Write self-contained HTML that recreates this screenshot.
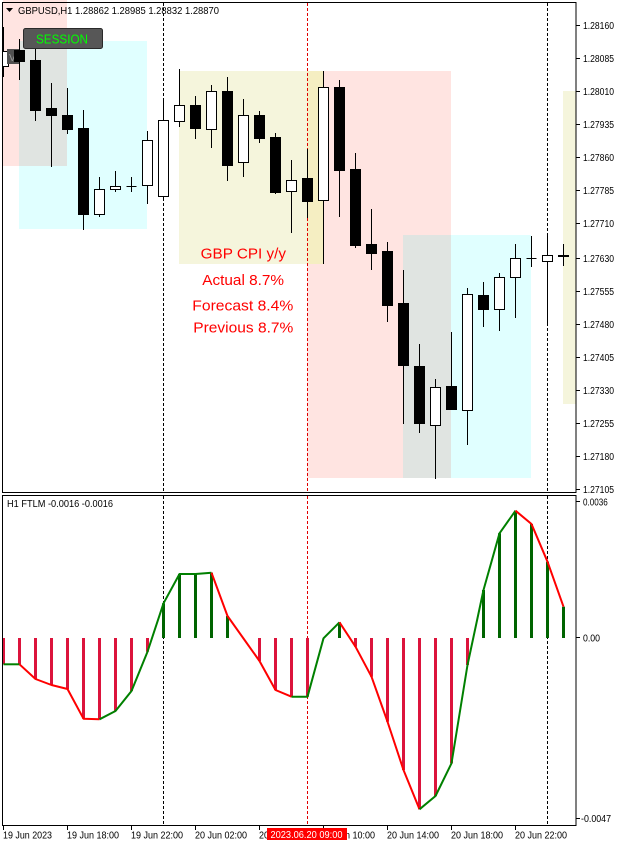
<!DOCTYPE html>
<html>
<head>
<meta charset="utf-8">
<style>
html,body{margin:0;padding:0;background:#fff;}
svg{display:block;}
text{font-family:"Liberation Sans",Arial,sans-serif;}
</style>
</head>
<body>
<svg width="622" height="846" viewBox="0 0 622 846" xmlns="http://www.w3.org/2000/svg">
<defs>
<clipPath id="mainclip"><rect x="3" y="0" width="573" height="492"/></clipPath>
<clipPath id="indclip"><rect x="3" y="496" width="573" height="329"/></clipPath>
</defs>
<rect x="0" y="0" width="622" height="846" fill="#fff"/>

<!-- ===== MAIN PANEL ===== -->
<g clip-path="url(#mainclip)">
  <!-- session rectangles -->
  <rect x="3" y="0" width="64" height="166" fill="#FFE4E1"/>
  <rect x="19" y="41" width="128" height="188" fill="#E0FFFF"/>
  <rect x="19" y="41" width="48" height="125" fill="#E0E4E1"/>
  <rect x="179" y="71" width="144" height="193" fill="#F5F5DC"/>
  <rect x="307" y="71" width="144" height="407" fill="#FFE4E1"/>
  <rect x="307" y="71" width="16" height="193" fill="#F5EEC2"/>
  <rect x="403" y="235" width="128" height="243" fill="#E0FFFF"/>
  <rect x="403" y="235" width="48" height="243" fill="#E0E4E1"/>
  <rect x="563" y="91" width="13" height="313" fill="#F5F5DC"/>

  <!-- vertical dashed lines -->
  <line x1="163.5" y1="3" x2="163.5" y2="492" stroke="#000" stroke-width="1" stroke-dasharray="3,2"/>
  <line x1="307.5" y1="3" x2="307.5" y2="492" stroke="#e00000" stroke-width="1" stroke-dasharray="3,2"/>
  <line x1="547.5" y1="3" x2="547.5" y2="492" stroke="#000" stroke-width="1" stroke-dasharray="3,2"/>

  <!-- candles -->
  <g stroke="#000" stroke-width="1">
    <!-- k0 white -->
    <line x1="3.5" y1="27" x2="3.5" y2="77"/>
    <rect x="-1.5" y="51.5" width="10" height="15" fill="#fff"/>
  </g>
  <!-- V label box -->
  <rect x="7" y="49" width="13" height="15" fill="#505050"/>
  <text x="9" y="61" font-size="10" fill="#9a9a9a">V</text>
  <g stroke="#000" stroke-width="1">
    <!-- k1 black -->
    <line x1="19.5" y1="39" x2="19.5" y2="80"/>
    <rect x="14.5" y="50.5" width="10" height="11" fill="#000"/>
    <!-- k2 -->
    <line x1="35.5" y1="41" x2="35.5" y2="121"/>
    <rect x="30.5" y="60.5" width="10" height="50" fill="#000"/>
    <!-- k3 -->
    <line x1="51.5" y1="83" x2="51.5" y2="167"/>
    <rect x="46.5" y="108.5" width="10" height="7" fill="#000"/>
    <!-- k4 -->
    <line x1="67.5" y1="88" x2="67.5" y2="134"/>
    <rect x="62.5" y="115.5" width="10" height="14" fill="#000"/>
    <!-- k5 -->
    <line x1="83.5" y1="110" x2="83.5" y2="230"/>
    <rect x="78.5" y="128.5" width="10" height="86" fill="#000"/>
    <!-- k6 white -->
    <line x1="99.5" y1="177" x2="99.5" y2="217"/>
    <rect x="94.5" y="189.5" width="10" height="25" fill="#fff"/>
    <!-- k7 white -->
    <line x1="115.5" y1="171" x2="115.5" y2="192"/>
    <rect x="110.5" y="186.5" width="10" height="3" fill="#fff"/>
    <!-- k8 doji -->
    <line x1="131.5" y1="177" x2="131.5" y2="192"/>
    <line x1="126.5" y1="186.5" x2="136.5" y2="186.5"/>
    <!-- k9 white -->
    <line x1="147.5" y1="131" x2="147.5" y2="204"/>
    <rect x="142.5" y="140.5" width="10" height="45" fill="#fff"/>
    <!-- k10 white -->
    <line x1="163.5" y1="98" x2="163.5" y2="200"/>
    <rect x="158.5" y="120.5" width="10" height="76" fill="#fff"/>
    <!-- k11 white -->
    <line x1="179.5" y1="69" x2="179.5" y2="127"/>
    <rect x="174.5" y="105.5" width="10" height="16" fill="#fff"/>
    <!-- k12 black -->
    <line x1="195.5" y1="96" x2="195.5" y2="139"/>
    <rect x="190.5" y="105.5" width="10" height="23" fill="#000"/>
    <!-- k13 white -->
    <line x1="211.5" y1="85" x2="211.5" y2="148"/>
    <rect x="206.5" y="91.5" width="10" height="38" fill="#fff"/>
    <!-- k14 black -->
    <line x1="227.5" y1="77" x2="227.5" y2="181"/>
    <rect x="222.5" y="91.5" width="10" height="74" fill="#000"/>
    <!-- k15 white -->
    <line x1="243.5" y1="99" x2="243.5" y2="177"/>
    <rect x="238.5" y="115.5" width="10" height="47" fill="#fff"/>
    <!-- k16 black -->
    <line x1="259.5" y1="111" x2="259.5" y2="143"/>
    <rect x="254.5" y="115.5" width="10" height="23" fill="#000"/>
    <!-- k17 black -->
    <line x1="275.5" y1="133" x2="275.5" y2="194"/>
    <rect x="270.5" y="137.5" width="10" height="55" fill="#000"/>
    <!-- k18 white -->
    <line x1="291.5" y1="160" x2="291.5" y2="233"/>
    <rect x="286.5" y="180.5" width="10" height="11" fill="#fff"/>
    <!-- k19 black -->
    <line x1="307.5" y1="149" x2="307.5" y2="218"/>
    <rect x="302.5" y="178.5" width="10" height="23" fill="#000"/>
    <!-- k20 white -->
    <line x1="323.5" y1="71" x2="323.5" y2="264"/>
    <rect x="318.5" y="87.5" width="10" height="113" fill="#fff"/>
    <!-- k21 black -->
    <line x1="339.5" y1="80" x2="339.5" y2="217"/>
    <rect x="334.5" y="87.5" width="10" height="83" fill="#000"/>
    <!-- k22 black -->
    <line x1="355.5" y1="153" x2="355.5" y2="248"/>
    <rect x="350.5" y="169.5" width="10" height="76" fill="#000"/>
    <!-- k23 black -->
    <line x1="371.5" y1="209" x2="371.5" y2="270"/>
    <rect x="366.5" y="244.5" width="10" height="9" fill="#000"/>
    <!-- k24 black -->
    <line x1="387.5" y1="242" x2="387.5" y2="322"/>
    <rect x="382.5" y="251.5" width="10" height="54" fill="#000"/>
    <!-- k25 black -->
    <line x1="403.5" y1="270" x2="403.5" y2="424"/>
    <rect x="398.5" y="303.5" width="10" height="62" fill="#000"/>
    <!-- k26 black -->
    <line x1="419.5" y1="344" x2="419.5" y2="433"/>
    <rect x="414.5" y="366.5" width="10" height="57" fill="#000"/>
    <!-- k27 white -->
    <line x1="435.5" y1="379" x2="435.5" y2="479"/>
    <rect x="430.5" y="387.5" width="10" height="38" fill="#fff"/>
    <!-- k28 black -->
    <line x1="451.5" y1="332" x2="451.5" y2="409"/>
    <rect x="446.5" y="386.5" width="10" height="23" fill="#000"/>
    <!-- k29 white -->
    <line x1="467.5" y1="288" x2="467.5" y2="445"/>
    <rect x="462.5" y="294.5" width="10" height="116" fill="#fff"/>
    <!-- k30 black -->
    <line x1="483.5" y1="282" x2="483.5" y2="327"/>
    <rect x="478.5" y="295.5" width="10" height="14" fill="#000"/>
    <!-- k31 white -->
    <line x1="499.5" y1="273" x2="499.5" y2="331"/>
    <rect x="494.5" y="277.5" width="10" height="32" fill="#fff"/>
    <!-- k32 white -->
    <line x1="515.5" y1="244" x2="515.5" y2="318"/>
    <rect x="510.5" y="258.5" width="10" height="19" fill="#fff"/>
    <!-- k33 doji -->
    <line x1="531.5" y1="236" x2="531.5" y2="267"/>
    <line x1="526.5" y1="258.5" x2="536.5" y2="258.5"/>
    <!-- k34 white -->
    <line x1="547.5" y1="235" x2="547.5" y2="325"/>
    <rect x="542.5" y="255.5" width="10" height="6" fill="#fff"/>
    <!-- k35 doji thick -->
    <line x1="563.5" y1="244" x2="563.5" y2="266"/>
    <rect x="558.5" y="255.5" width="10" height="1" fill="#000"/>
  </g>

  <!-- news text -->
  <g fill="#ff0000" font-size="15">
    <text x="200.7" y="258.3" textLength="85.3" lengthAdjust="spacingAndGlyphs">GBP CPI y/y</text>
    <text x="202.3" y="285" textLength="81.7" lengthAdjust="spacingAndGlyphs">Actual 8.7%</text>
    <text x="192.3" y="310.7" textLength="101" lengthAdjust="spacingAndGlyphs">Forecast 8.4%</text>
    <text x="193.3" y="332.3" textLength="100" lengthAdjust="spacingAndGlyphs">Previous 8.7%</text>
  </g>

  <!-- SESSION button -->
  <rect x="23.5" y="28.5" width="79" height="20" rx="2" fill="#575757" stroke="#2a2a2a" stroke-width="1"/>
  <text x="36" y="43.5" font-size="13" fill="#00ff00" textLength="52" lengthAdjust="spacingAndGlyphs">SESSION</text>

  <!-- header -->
  <polygon points="6,8 13,8 9.5,12" fill="#000"/>
  <text x="18" y="14" font-size="10.5" fill="#000" textLength="201" lengthAdjust="spacingAndGlyphs">GBPUSD,H1  1.28862 1.28985 1.28832 1.28870</text>
</g>

<!-- main panel border -->
<rect x="2.5" y="2.5" width="573.5" height="490" fill="none" stroke="#000" stroke-width="1"/>

<!-- price axis -->
<g stroke="#000" stroke-width="1">
  <line x1="576" y1="25.5" x2="580" y2="25.5"/>
  <line x1="576" y1="58.5" x2="580" y2="58.5"/>
  <line x1="576" y1="91.5" x2="580" y2="91.5"/>
  <line x1="576" y1="124.5" x2="580" y2="124.5"/>
  <line x1="576" y1="157.5" x2="580" y2="157.5"/>
  <line x1="576" y1="190.5" x2="580" y2="190.5"/>
  <line x1="576" y1="223.5" x2="580" y2="223.5"/>
  <line x1="576" y1="258.5" x2="580" y2="258.5"/>
  <line x1="576" y1="291.5" x2="580" y2="291.5"/>
  <line x1="576" y1="324.5" x2="580" y2="324.5"/>
  <line x1="576" y1="357.5" x2="580" y2="357.5"/>
  <line x1="576" y1="390.5" x2="580" y2="390.5"/>
  <line x1="576" y1="423.5" x2="580" y2="423.5"/>
  <line x1="576" y1="456.5" x2="580" y2="456.5"/>
  <line x1="576" y1="489.5" x2="580" y2="489.5"/>
</g>
<g font-size="10" fill="#000">
  <text x="583" y="29" textLength="31" lengthAdjust="spacingAndGlyphs">1.28160</text>
  <text x="583" y="62" textLength="31" lengthAdjust="spacingAndGlyphs">1.28085</text>
  <text x="583" y="95" textLength="31" lengthAdjust="spacingAndGlyphs">1.28010</text>
  <text x="583" y="128" textLength="31" lengthAdjust="spacingAndGlyphs">1.27935</text>
  <text x="583" y="161" textLength="31" lengthAdjust="spacingAndGlyphs">1.27860</text>
  <text x="583" y="194" textLength="31" lengthAdjust="spacingAndGlyphs">1.27785</text>
  <text x="583" y="227" textLength="31" lengthAdjust="spacingAndGlyphs">1.27710</text>
  <text x="583" y="262" textLength="31" lengthAdjust="spacingAndGlyphs">1.27630</text>
  <text x="583" y="295" textLength="31" lengthAdjust="spacingAndGlyphs">1.27555</text>
  <text x="583" y="328" textLength="31" lengthAdjust="spacingAndGlyphs">1.27480</text>
  <text x="583" y="361" textLength="31" lengthAdjust="spacingAndGlyphs">1.27405</text>
  <text x="583" y="394" textLength="31" lengthAdjust="spacingAndGlyphs">1.27330</text>
  <text x="583" y="427" textLength="31" lengthAdjust="spacingAndGlyphs">1.27255</text>
  <text x="583" y="460" textLength="31" lengthAdjust="spacingAndGlyphs">1.27180</text>
  <text x="583" y="493" textLength="31" lengthAdjust="spacingAndGlyphs">1.27105</text>
</g>

<!-- ===== INDICATOR PANEL ===== -->
<g clip-path="url(#indclip)">
  <line x1="163.5" y1="496" x2="163.5" y2="825" stroke="#000" stroke-width="1" stroke-dasharray="3,2"/>
  <line x1="307.5" y1="496" x2="307.5" y2="825" stroke="#e00000" stroke-width="1" stroke-dasharray="3,2"/>
  <line x1="547.5" y1="496" x2="547.5" y2="825" stroke="#000" stroke-width="1" stroke-dasharray="3,2"/>

  <!-- histogram red (crimson) -->
  <g fill="#DC143C">
    <rect x="2" y="638" width="3" height="26.3"/>
    <rect x="18" y="638" width="3" height="26.3"/>
    <rect x="34" y="638" width="3" height="41"/>
    <rect x="50" y="638" width="3" height="47"/>
    <rect x="66" y="638" width="3" height="51"/>
    <rect x="82" y="638" width="3" height="80.7"/>
    <rect x="98" y="638" width="3" height="81.3"/>
    <rect x="114" y="638" width="3" height="73"/>
    <rect x="130" y="638" width="3" height="53"/>
    <rect x="146" y="638" width="3" height="13.7"/>
    <rect x="258" y="638" width="3" height="23"/>
    <rect x="274" y="638" width="3" height="52"/>
    <rect x="290" y="638" width="3" height="58.7"/>
    <rect x="306" y="638" width="3" height="58.7"/>
    <rect x="354" y="638" width="3" height="8.7"/>
    <rect x="370" y="638" width="3" height="38.7"/>
    <rect x="386" y="638" width="3" height="83.7"/>
    <rect x="402" y="638" width="3" height="132"/>
    <rect x="418" y="638" width="3" height="171.3"/>
    <rect x="434" y="638" width="3" height="158"/>
    <rect x="450" y="638" width="3" height="125.3"/>
    <rect x="466" y="638" width="3" height="27"/>
  </g>
  <!-- histogram green -->
  <g fill="#006400">
    <rect x="162" y="603.3" width="3" height="34.7"/>
    <rect x="178" y="574" width="3" height="64"/>
    <rect x="194" y="574" width="3" height="64"/>
    <rect x="210" y="572.7" width="3" height="65.3"/>
    <rect x="226" y="616" width="3" height="22"/>
    <rect x="338" y="622.3" width="3" height="15.7"/>
    <rect x="482" y="590" width="3" height="48"/>
    <rect x="498" y="533.3" width="3" height="104.7"/>
    <rect x="514" y="510.7" width="3" height="127.3"/>
    <rect x="530" y="524" width="3" height="114"/>
    <rect x="546" y="561.7" width="3" height="76.3"/>
    <rect x="562" y="606.7" width="3" height="31.3"/>
  </g>

  <!-- line -->
  <g fill="none" stroke-width="2" stroke-linejoin="round">
    <polyline stroke="#008000" points="3.5,664.3 19.5,664.3"/>
    <polyline stroke="#ff0000" points="19.5,664.3 35.5,679 51.5,685 67.5,689 83.5,718.7 99.5,719.3"/>
    <polyline stroke="#008000" points="99.5,719.3 115.5,711 131.5,691 147.5,651.7 163.5,603.3 179.5,574 195.5,574 211.5,572.7"/>
    <polyline stroke="#ff0000" points="211.5,572.7 227.5,616 243.5,638.5 259.5,661 275.5,690 291.5,696.7"/>
    <polyline stroke="#008000" points="291.5,696.7 307.5,696.7 323.5,638.3 339.5,622.3"/>
    <polyline stroke="#ff0000" points="339.5,622.3 355.5,646.7 371.5,676.7 387.5,721.7 403.5,770 419.5,809.3"/>
    <polyline stroke="#008000" points="419.5,809.3 435.5,796 451.5,763.3 467.5,665 483.5,590 499.5,533.3 515.5,510.7"/>
    <polyline stroke="#ff0000" points="515.5,510.7 531.5,524 547.5,561.7 563.5,606.7"/>
  </g>

  <text x="7" y="507" font-size="10" fill="#000" textLength="106" lengthAdjust="spacingAndGlyphs">H1 FTLM -0.0016 -0.0016</text>
</g>

<!-- indicator border -->
<rect x="2.5" y="495.5" width="573.5" height="330" fill="none" stroke="#000" stroke-width="1"/>

<!-- indicator axis -->
<g stroke="#000" stroke-width="1">
  <line x1="576" y1="501.5" x2="580" y2="501.5"/>
  <line x1="576" y1="637.5" x2="580" y2="637.5"/>
  <line x1="576" y1="818.5" x2="580" y2="818.5"/>
</g>
<g font-size="10" fill="#000">
  <text x="583" y="505.5" textLength="24.7" lengthAdjust="spacingAndGlyphs">0.0036</text>
  <text x="583" y="641.5" textLength="17" lengthAdjust="spacingAndGlyphs">0.00</text>
  <text x="581" y="822" textLength="30" lengthAdjust="spacingAndGlyphs">-0.0047</text>
</g>

<!-- time axis -->
<g stroke="#000" stroke-width="1">
  <line x1="3.5" y1="826" x2="3.5" y2="830"/>
  <line x1="67.5" y1="826" x2="67.5" y2="830"/>
  <line x1="131.5" y1="826" x2="131.5" y2="830"/>
  <line x1="195.5" y1="826" x2="195.5" y2="830"/>
  <line x1="259.5" y1="826" x2="259.5" y2="830"/>
  <line x1="323.5" y1="826" x2="323.5" y2="830"/>
  <line x1="387.5" y1="826" x2="387.5" y2="830"/>
  <line x1="451.5" y1="826" x2="451.5" y2="830"/>
  <line x1="515.5" y1="826" x2="515.5" y2="830"/>
</g>
<g font-size="10" fill="#000">
  <text x="3" y="838.5" textLength="49" lengthAdjust="spacingAndGlyphs">19 Jun 2023</text>
  <text x="67" y="838.5" textLength="52" lengthAdjust="spacingAndGlyphs">19 Jun 18:00</text>
  <text x="131" y="838.5" textLength="52" lengthAdjust="spacingAndGlyphs">19 Jun 22:00</text>
  <text x="195" y="838.5" textLength="52" lengthAdjust="spacingAndGlyphs">20 Jun 02:00</text>
  <text x="259" y="838.5" textLength="52" lengthAdjust="spacingAndGlyphs">20 Jun 06:00</text>
  <text x="323" y="838.5" textLength="52" lengthAdjust="spacingAndGlyphs">20 Jun 10:00</text>
  <text x="387" y="838.5" textLength="52" lengthAdjust="spacingAndGlyphs">20 Jun 14:00</text>
  <text x="451" y="838.5" textLength="52" lengthAdjust="spacingAndGlyphs">20 Jun 18:00</text>
  <text x="515" y="838.5" textLength="52" lengthAdjust="spacingAndGlyphs">20 Jun 22:00</text>
</g>
<rect x="267" y="828" width="80" height="12" fill="#ff0000"/>
<text x="270.5" y="838" font-size="10" fill="#fff" textLength="72" lengthAdjust="spacingAndGlyphs">2023.06.20 09:00</text>
</svg>
</body>
</html>
